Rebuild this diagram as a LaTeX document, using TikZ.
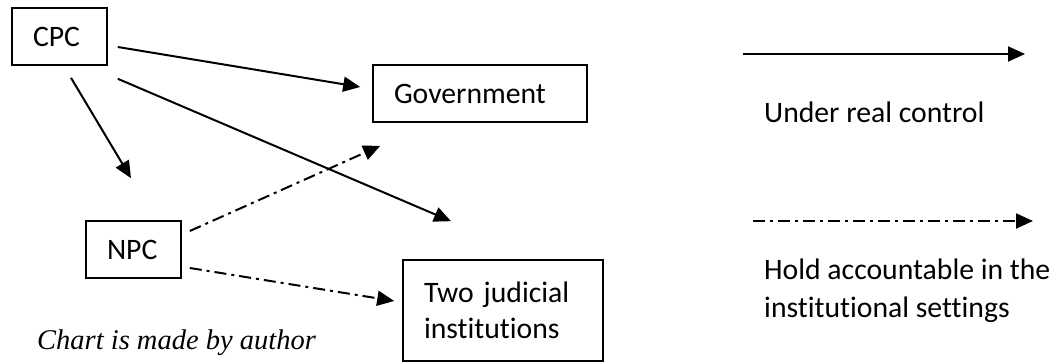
\documentclass[tikz,border=0pt]{standalone}
\usepackage{fontspec}
\setmainfont{Carlito}[Ligatures=NoCommon]
\newfontfamily\capfont{Liberation Serif}
\usetikzlibrary{arrows.meta,calc}
\begin{document}
\begin{tikzpicture}[x=1pt,y=1pt,
  box/.style={draw,line width=1.6pt,inner xsep=21pt,inner ysep=0pt,align=left,
    font=\fontsize{29.7}{36.5}\selectfont,minimum height=57pt},
  ctrl/.style={line width=2pt,-{Triangle[length=17pt,width=15pt]}},
  acct/.style={line width=2pt,dash pattern=on 12pt off 5pt on 3pt off 5pt,
    -{Triangle[length=17pt,width=15pt]}},
  lbl/.style={font=\fontsize{29.7}{38}\selectfont,inner sep=0pt,align=left}]
\useasboundingbox (0,0) rectangle (1061,362);
\node[box,text width=53pt] (cpc) at (59.5,325.5) {CPC};
\node[box,text width=172pt] (gov) at (480,268.5) {Government};
\node[box,text width=53pt] (npc) at (133.5,112.5) {NPC};
\node[box,text width=158pt,minimum height=101pt] (two) at (503,51.5) {Two judicial\\institutions};
\draw[ctrl] ($(cpc.east)+(10,-10.5)$) -- ($(gov.west)+(-12,6.5)$);
\draw[ctrl] ($(cpc.south)+(11.5,-12)$) -- ($(npc.north)+(-2.5,42)$);
\draw[ctrl] ($(cpc.south east)+(10,-13)$) -- ($(two.north)+(-52,38)$);
\draw[acct] ($(npc.east)+(8,18.5)$) -- ($(gov.south west)+(8,-23)$);
\draw[acct] ($(npc.east)+(8,-18.5)$) -- ($(two.west)+(-8,9.5)$);
\coordinate (l1s) at (743,308);
\coordinate (l1e) at (1025,308);
\coordinate (l2s) at (753,141);
\coordinate (l2e) at (1033,141);
\draw[ctrl] (l1s) -- (l1e);
\draw[acct] (l2s) -- (l2e);
\node[lbl,anchor=base west] (t1) at (764,239) {Under real control};
\node[lbl,anchor=base west] (t2) at (764,83) {Hold accountable in the};
\node[lbl,anchor=base west] (t3) at (764,45) {institutional settings};
\node[anchor=base west,inner sep=0pt,font=\capfont\itshape\fontsize{28.5}{32}\selectfont] (cap) at (37,13) {Chart is made by author};
\end{tikzpicture}
\end{document}
